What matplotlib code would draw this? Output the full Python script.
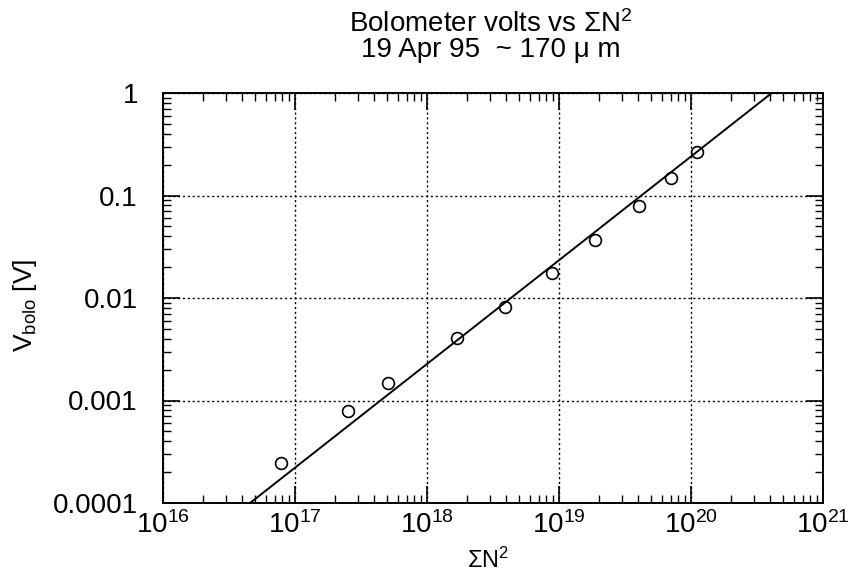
import numpy as np
import matplotlib
matplotlib.use("Agg")
import matplotlib.pyplot as plt
from matplotlib.ticker import FixedLocator, LogLocator, NullFormatter

plt.rcParams['font.family'] = ['Liberation Sans', 'DejaVu Sans']
plt.rcParams['mathtext.fontset'] = 'custom'
plt.rcParams['mathtext.rm'] = 'Liberation Sans'
plt.rcParams['mathtext.it'] = 'Liberation Sans'
plt.rcParams['mathtext.default'] = 'regular'

# sum of N^2 and measured bolometer voltage
sum_n2 = [7.8e16, 2.5e17, 5.1e17, 1.68e18, 3.9e18, 8.9e18, 1.87e19, 4.05e19, 7.1e19, 1.12e20]
v_bolo = [2.45e-4, 7.9e-4, 1.47e-3, 4.1e-3, 8.2e-3, 0.0177, 0.0366, 0.079, 0.148, 0.265]

# fitted power law, end points beyond the axes
fit_x = [1e16, 1e21]
fit_y = [2.15e-5, 2.47]

x_ticks = [1e16, 1e17, 1e18, 1e19, 1e20, 1e21]
x_labels = ['$10^{16}$', '$10^{17}$', '$10^{18}$', '$10^{19}$', '$10^{20}$', '$10^{21}$']
y_ticks = [1e-4, 1e-3, 1e-2, 1e-1, 1]
y_labels = ['0.0001', '0.001', '0.01', '0.1', '1']

W, H = 854, 573
fig = plt.figure(figsize=(W / 100, H / 100), dpi=100)
ax = fig.add_axes([163 / W, 1 - 503 / H, 660 / W, 410 / H])

ax.plot(fit_x, fit_y, color='black', lw=1.4)
ax.plot(sum_n2, v_bolo, linestyle='none', marker='o', ms=8.5, mfc='none',
        mec='black', mew=1.2)

ax.set_xscale('log')
ax.set_yscale('log')
ax.set_xlim(1e16, 1e21)
ax.set_ylim(1e-4, 1)

ax.xaxis.set_major_locator(FixedLocator(x_ticks))
ax.set_xticklabels(x_labels)
ax.yaxis.set_major_locator(FixedLocator(y_ticks))
ax.set_yticklabels(y_labels)
ax.xaxis.set_minor_locator(LogLocator(base=10, subs=np.arange(2, 10)))
ax.yaxis.set_minor_locator(LogLocator(base=10, subs=np.arange(2, 10)))
ax.xaxis.set_minor_formatter(NullFormatter())
ax.yaxis.set_minor_formatter(NullFormatter())

ax.tick_params(which='both', direction='in', top=True, right=True, colors='black')
ax.tick_params(which='major', length=12, width=1.2, labelsize=20)
ax.tick_params(axis='y', which='major', pad=18)
ax.tick_params(axis='x', which='major', pad=6)
ax.tick_params(which='minor', length=6, width=1.0)
for s in ax.spines.values():
    s.set_linewidth(1.4)

ax.grid(True, which='major', color='black', linestyle=(0, (1.5, 2)), lw=1.0)

# axis labels and two-line title placed by baseline
fig.text(488 / W, 1 - 568 / H, 'ΣN$^2$', fontsize=17, ha='center', va='baseline')
fig.text(32 / W, 1 - 305 / H, 'V$_{bolo}$ [V]', fontsize=19, rotation=90,
         rotation_mode='anchor', ha='center', va='baseline')
fig.text(491 / W, 1 - 32 / H, 'Bolometer volts vs ΣN$^2$', fontsize=20,
         ha='center', va='baseline')
fig.text(491 / W, 1 - 57 / H, '19 Apr 95  ~ 170 μ m', fontsize=20,
         ha='center', va='baseline')

fig.savefig('out.png', dpi=100)
